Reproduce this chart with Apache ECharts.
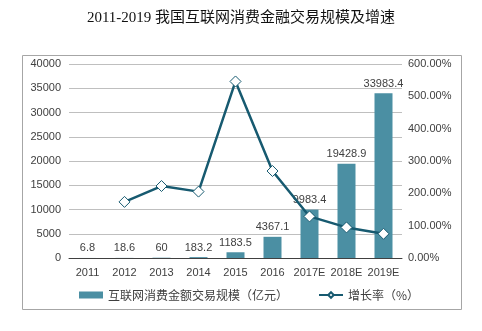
<!DOCTYPE html>
<html><head><meta charset="utf-8">
<script src="https://cdn.jsdelivr.net/npm/echarts@6/dist/echarts.min.js"></script>
<style>html,body{margin:0;padding:0;background:#fff}#c{width:482px;height:331px}</style>
</head><body><div id="c"></div>
<script>
var categories = ['2011','2012','2013','2014','2015','2016','2017E','2018E','2019E'];
var scaleValues = [6.8, 18.6, 60, 183.2, 1183.5, 4367.1, 9983.4, 19428.9, 33983.4];
var growthValues = [null, 173.5, 222.6, 205.3, 546.0, 269.0, 128.6, 94.6, 74.9];
var leftTicks = [0, 5000, 40000];
var rightTicks = [0, 100, 600];
var barName = '互联网消费金额交易规模（亿元）';
var lineName = '增长率（%）';
var titleText = '2011-2019 我国互联网消费金融交易规模及增速';

var chart = echarts.init(document.getElementById('c'));
var txt = '#404040';
chart.setOption({
  animation: false,
  title: { text: titleText, left: 'center', top: 6,
    textStyle: { fontFamily: 'Liberation Serif, Noto Sans CJK SC', fontSize: 15, fontWeight: 'normal', color: '#111' } },
  graphic: [{ type: 'rect', shape: { x: 22.5, y: 55.5, width: 439, height: 254 },
    style: { fill: 'none', stroke: '#a6a6a6', lineWidth: 1 }, z: -1 }],
  legend: { bottom: 25, left: 74, itemGap: 30, itemWidth: 24, itemHeight: 7,
    textStyle: { color: txt, fontSize: 12, fontFamily: 'Noto Sans CJK SC' },
    data: [{ name: barName, icon: 'rect' }, { name: lineName }] },
  grid: { left: 69, right: 80, top: 64, bottom: 73 },
  xAxis: { type: 'category', data: categories,
    axisLine: { lineStyle: { color: '#404040' } }, axisTick: { show: false },
    axisLabel: { color: txt, fontSize: 11, fontFamily: 'Liberation Sans', margin: 9, interval: 0 } },
  yAxis: [
    { type: 'value', min: leftTicks[0], max: leftTicks[2], interval: leftTicks[1],
      axisLine: { show: false }, axisTick: { show: false },
      axisLabel: { color: txt, fontSize: 11, fontFamily: 'Liberation Sans', margin: 8,
        formatter: function (v) { return String(v); } },
      splitLine: { lineStyle: { color: '#bfbfbf' } } },
    { type: 'value', min: rightTicks[0], max: rightTicks[2], interval: rightTicks[1],
      axisLine: { show: false }, axisTick: { show: false }, splitLine: { show: false },
      axisLabel: { color: txt, fontSize: 11, fontFamily: 'Liberation Sans', margin: 6,
        formatter: function (v) { return v.toFixed(2) + '%'; } } }
  ],
  series: [
    { name: barName, type: 'bar', data: scaleValues, barWidth: 18,
      itemStyle: { color: '#4b8fa3' },
      label: { show: true, position: 'top', color: txt, fontSize: 11, fontFamily: 'Liberation Sans', distance: 4 } },
    { name: lineName, type: 'line', yAxisIndex: 1, data: growthValues,
      symbol: 'diamond', symbolSize: 11, showAllSymbol: true,
      lineStyle: { color: '#175a70', width: 2.5 },
      itemStyle: { color: '#fff', borderColor: '#175a70', borderWidth: 1 } }
  ]
});
</script></body></html>
